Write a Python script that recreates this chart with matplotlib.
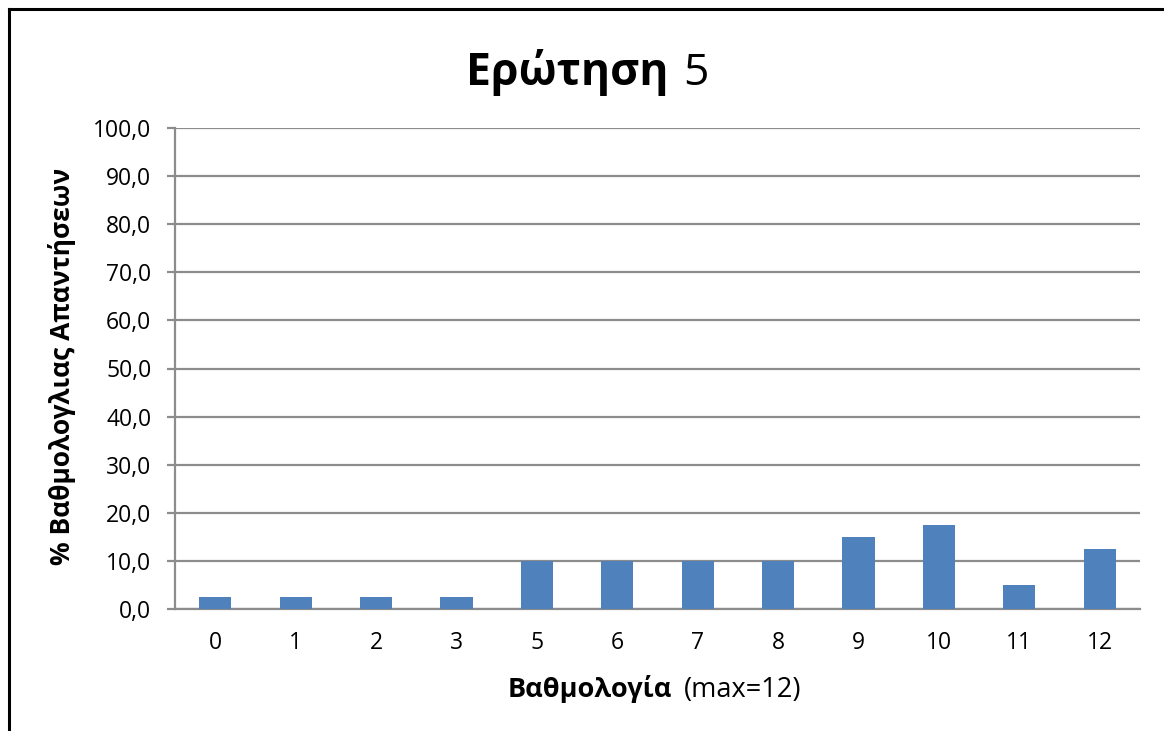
import matplotlib
matplotlib.use("Agg")
import matplotlib.pyplot as plt
from matplotlib.lines import Line2D

plt.rcParams['font.family'] = ['Open Sans', 'DejaVu Sans']

categories = ['0', '1', '2', '3', '5', '6', '7', '8', '9', '10', '11', '12']
percentages = [2.5, 2.5, 2.5, 2.5, 10.0, 10.0, 10.0, 10.0, 15.0, 17.5, 5.0, 12.5]
y_ticks = [0, 10, 20, 30, 40, 50, 60, 70, 80, 90, 100]
y_tick_labels = ['0,0', '10,0', '20,0', '30,0', '40,0', '50,0', '60,0', '70,0', '80,0', '90,0', '100,0']

W, H = 1164, 731
fig = plt.figure(figsize=(W / 100, H / 100), dpi=100)
ax = fig.add_axes([175 / W, 1 - 609 / H, (1140 - 175) / W, (609 - 128) / H])

x = list(range(len(categories)))
ax.bar(x, percentages, width=0.4, color='#4F81BD', zorder=3)

ax.set_xlim(-0.5, len(categories) - 0.5)
ax.set_ylim(0, 100)
ax.set_yticks(y_ticks)
ax.set_yticklabels(y_tick_labels)
ax.set_xticks(x)
ax.set_xticklabels(categories)

grid_color = '#8C8C8C'
ax.yaxis.grid(True, color=grid_color, linewidth=1.6, zorder=0)
for side in ['top', 'right']:
    ax.spines[side].set_visible(False)
for side in ['left', 'bottom']:
    ax.spines[side].set_color(grid_color)
    ax.spines[side].set_linewidth(1.6)
ax.tick_params(axis='y', length=6, width=1.6, color=grid_color, labelsize=16.5, pad=11)
ax.tick_params(axis='x', length=0, labelsize=16.5, pad=16)

# Title: bold word followed by a regular number
fig.text(668 / W, 1 - 85 / H, 'Ερώτηση', fontsize=32, fontweight='bold', ha='right', va='baseline')
fig.text(683 / W, 1 - 85 / H, '5', fontsize=32, ha='left', va='baseline')

# X axis label
fig.text(672 / W, 1 - 697 / H, 'Βαθμολογία', fontsize=19.5, fontweight='bold', ha='right', va='baseline')
fig.text(684 / W, 1 - 697 / H, '(max=12)', fontsize=19.5, ha='left', va='baseline')

# Y axis label
fig.text(62 / W, 1 - 366 / H, '% Βαθμολογλιας Απαντήσεων', fontsize=19, fontweight='bold',
         rotation=90, ha='center', va='center')

# Chart frame
fig.add_artist(Line2D([9 / W, 9 / W], [0, 1 - 9 / H], color='black', linewidth=2.2, transform=fig.transFigure))
fig.add_artist(Line2D([9 / W, 1.0], [1 - 9 / H, 1 - 9 / H], color='black', linewidth=2.2, transform=fig.transFigure))

fig.savefig('out.png', dpi=100)
